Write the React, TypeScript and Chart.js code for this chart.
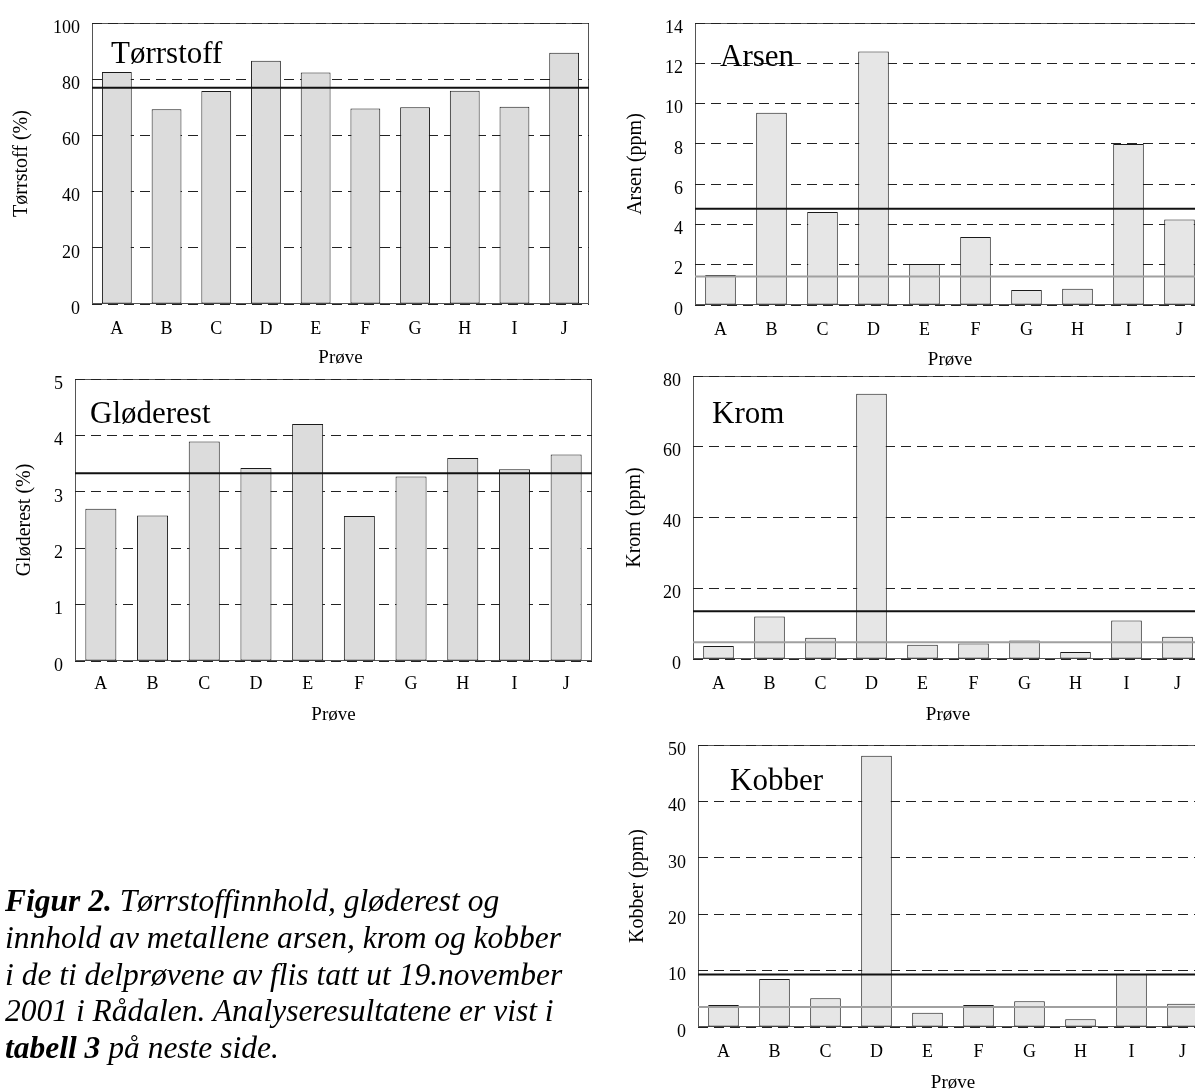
import React, { useEffect, useRef } from "react";
import { Chart, registerables } from "chart.js";

Chart.register(...registerables);

// ---------- data ----------
const categories = ["A", "B", "C", "D", "E", "F", "G", "H", "I", "J"];

const torrstoffValues = [82.6, 69.3, 75.8, 86.6, 82.4, 69.6, 70.0, 75.9, 70.2, 89.4];
const torrstoffMean = [77];
const torrstoffAxis = [0, 100, 20];

const glodValues = [2.7, 2.58, 3.89, 3.42, 4.2, 2.57, 3.27, 3.6, 3.4, 3.66];
const glodMean = [3.33];
const glodAxis = [0, 5, 1];

const arsenValues = [1.49, 9.55, 4.62, 12.59, 2.04, 3.38, 0.74, 0.81, 7.99, 4.25];
const arsenMean = [4.78];
const arsenRef = [1.41];
const arsenAxis = [0, 14, 2];

const kromValues = [3.7, 12.0, 6.0, 75.0, 4.05, 4.4, 5.2, 2.0, 10.9, 6.3];
const kromMean = [13.5];
const kromRef = [4.7];
const kromAxis = [0, 80, 20];

const kobberValues = [3.9, 8.5, 5.08, 48.1, 2.54, 3.9, 4.55, 1.36, 9.4, 4.13];
const kobberMean = [9.33];
const kobberRef = [3.54];
const kobberAxis = [0, 50, 10];

const FONT = '"Liberation Serif", "Times New Roman", serif';

type PanelDef = {
  name: string;
  yTitle: string;
  values: number[];
  axis: number[];
  black: number[];
  gray: number[];
  box: { x: number; y: number; w: number; h: number };
  plot: { left: number; top: number; right: number; bottom: number };
  nameDx: number;
  nameDy: number;
  yTitlePad: number;
  xTitlePad: number;
  tickPadX: number;
  barColor: string;
};

const panels: PanelDef[] = [
  {
    name: "Tørrstoff",
    yTitle: "Tørrstoff (%)",
    values: torrstoffValues,
    axis: torrstoffAxis,
    black: torrstoffMean,
    gray: [],
    box: { x: 0, y: 0, w: 600, h: 375 },
    plot: { left: 92, top: 23, right: 589, bottom: 304 },
    nameDx: 19,
    nameDy: 40,
    yTitlePad: 10,
    xTitlePad: 6,
    tickPadX: 14,
    barColor: "#dcdcdc",
  },
  {
    name: "Gløderest",
    yTitle: "Gløderest (%)",
    values: glodValues,
    axis: glodAxis,
    black: glodMean,
    gray: [],
    box: { x: 0, y: 355, w: 600, h: 380 },
    plot: { left: 75, top: 379, right: 592, bottom: 661 },
    nameDx: 15,
    nameDy: 44,
    yTitlePad: 13,
    xTitlePad: 9,
    tickPadX: 12,
    barColor: "#dcdcdc",
  },
  {
    name: "Arsen",
    yTitle: "Arsen (ppm)",
    values: arsenValues,
    axis: arsenAxis,
    black: arsenMean,
    gray: arsenRef,
    box: { x: 600, y: 0, w: 620, h: 375 },
    plot: { left: 695, top: 23, right: 1205, bottom: 305 },
    nameDx: 25,
    nameDy: 43,
    yTitlePad: 24,
    xTitlePad: 4,
    tickPadX: 14,
    barColor: "#e6e6e6",
  },
  {
    name: "Krom",
    yTitle: "Krom (ppm)",
    values: kromValues,
    axis: kromAxis,
    black: kromMean,
    gray: kromRef,
    box: { x: 600, y: 352, w: 620, h: 380 },
    plot: { left: 693, top: 376, right: 1203, bottom: 659 },
    nameDx: 19,
    nameDy: 47,
    yTitlePad: 23,
    xTitlePad: 6,
    tickPadX: 14,
    barColor: "#e6e6e6",
  },
  {
    name: "Kobber",
    yTitle: "Kobber (ppm)",
    values: kobberValues,
    axis: kobberAxis,
    black: kobberMean,
    gray: kobberRef,
    box: { x: 600, y: 720, w: 620, h: 374 },
    plot: { left: 698, top: 745, right: 1208, bottom: 1027 },
    nameDx: 32,
    nameDy: 45,
    yTitlePad: 26,
    xTitlePad: 0,
    tickPadX: 14,
    barColor: "#e6e6e6",
  },
];

function Panel({ p }: { p: PanelDef }) {
  const ref = useRef<HTMLCanvasElement | null>(null);

  useEffect(() => {
    if (!ref.current) return;
    const yAxisWidth = p.plot.left - p.box.x;
    const xAxisHeight = p.box.y + p.box.h - p.plot.bottom;
    const padTop = p.plot.top - p.box.y;
    const padRight = p.box.x + p.box.w - p.plot.right;

    const decor = {
      id: "decor",
      beforeDraw(chart: any) {
        const { ctx, chartArea: a } = chart;
        ctx.save();
        ctx.strokeStyle = "#555";
        ctx.lineWidth = 1;
        ctx.setLineDash([]);
        ctx.strokeRect(a.left + 0.5, a.top + 0.5, a.right - a.left - 1, a.bottom - a.top - 1);
        ctx.restore();
      },
      beforeDatasetsDraw(chart: any) {
        const { ctx, chartArea: a } = chart;
        ctx.save();
        ctx.fillStyle = "#000";
        ctx.font = `31px ${FONT}`;
        ctx.textBaseline = "alphabetic";
        ctx.textAlign = "left";
        ctx.fillText(p.name, a.left + p.nameDx, a.top + p.nameDy);
        ctx.restore();
      },
      afterDatasetsDraw(chart: any) {
        const { ctx, chartArea: a } = chart;
        const ys = chart.scales.y;
        ctx.save();
        ctx.setLineDash([]);
        ctx.lineWidth = 2;
        ctx.strokeStyle = "#a0a0a0";
        p.gray.forEach((v) => {
          const py = ys.getPixelForValue(v);
          ctx.beginPath();
          ctx.moveTo(a.left, py);
          ctx.lineTo(a.right, py);
          ctx.stroke();
        });
        ctx.strokeStyle = "#111";
        p.black.forEach((v) => {
          const py = ys.getPixelForValue(v);
          ctx.beginPath();
          ctx.moveTo(a.left, py);
          ctx.lineTo(a.right, py);
          ctx.stroke();
        });
        ctx.restore();
      },
    };

    const chart = new Chart(ref.current, {
      type: "bar",
      data: {
        labels: categories,
        datasets: [
          {
            data: p.values,
            backgroundColor: p.barColor,
            borderColor: "#1a1a1a",
            borderWidth: 1,
            borderSkipped: false,
            barPercentage: 0.6,
            categoryPercentage: 1,
          },
        ],
      },
      options: {
        animation: false,
        responsive: false,
        maintainAspectRatio: false,
        devicePixelRatio: 1,
        events: [],
        layout: { padding: { top: padTop, right: padRight, left: 0, bottom: 0 } },
        plugins: { legend: { display: false }, tooltip: { enabled: false }, title: { display: false } },
        scales: {
          x: {
            offset: true,
            grid: { display: false, drawTicks: false },
            border: { display: false },
            ticks: {
              color: "#000",
              font: { family: FONT, size: 18 },
              padding: p.tickPadX,
              maxRotation: 0,
              autoSkip: false,
            },
            title: {
              display: true,
              text: "Prøve",
              color: "#000",
              font: { family: FONT, size: 19 },
              padding: { top: 0, bottom: p.xTitlePad },
            },
            afterFit: (scale: any) => {
              scale.height = xAxisHeight;
            },
          },
          y: {
            min: p.axis[0],
            max: p.axis[1],
            grid: {
              color: "#222",
              lineWidth: 1,
              drawTicks: false,
            },
            border: { display: false, dash: [10, 6] },
            ticks: {
              stepSize: p.axis[2],
              color: "#000",
              font: { family: FONT, size: 18 },
              padding: 12,
              labelOffset: 5,
            },
            title: {
              display: true,
              text: p.yTitle,
              color: "#000",
              font: { family: FONT, size: 20 },
              padding: { top: p.yTitlePad, bottom: 0 },
            },
            afterFit: (scale: any) => {
              scale.width = yAxisWidth;
            },
          },
        },
      } as any,
      plugins: [decor],
    });
    return () => chart.destroy();
  }, [p]);

  return (
    <canvas
      ref={ref}
      width={p.box.w}
      height={p.box.h}
      style={{ position: "absolute", left: p.box.x, top: p.box.y, width: p.box.w, height: p.box.h }}
    />
  );
}

export default function App() {
  return (
    <div
      style={{
        position: "absolute",
        left: 0,
        top: 0,
        width: 1195,
        height: 1090,
        overflow: "hidden",
        background: "#fff",
      }}
    >
      {panels.map((p) => (
        <Panel key={p.name} p={p} />
      ))}
      <div
        style={{
          position: "absolute",
          left: 5,
          top: 883,
          width: 600,
          fontFamily: FONT,
          fontStyle: "italic",
          fontSize: 31.5,
          lineHeight: "36.75px",
          color: "#000",
          whiteSpace: "nowrap",
        }}
      >
        <b>Figur 2.</b> Tørrstoffinnhold, gløderest og
        <br />
        innhold av metallene arsen, krom og kobber
        <br />i de ti delprøvene av flis tatt ut 19.november
        <br />
        2001 i Rådalen. Analyseresultatene er vist i
        <br />
        <b>tabell 3</b> på neste side.
      </div>
    </div>
  );
}
